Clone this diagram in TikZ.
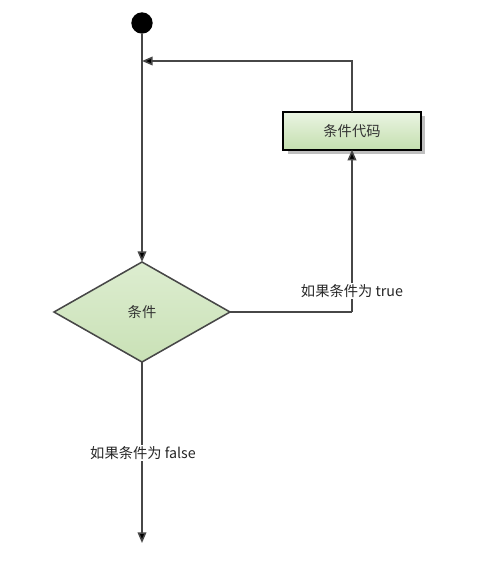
\documentclass[tikz,border=0pt]{standalone}
\usepackage{fontspec}
\setmainfont{Noto Sans CJK SC}
\usetikzlibrary{arrows.meta,shapes.geometric,shadows}
\definecolor{linec}{HTML}{474747}
\definecolor{boxtop}{HTML}{EAF4E2}
\definecolor{boxbot}{HTML}{C4DFAF}
\definecolor{diatop}{HTML}{DDEDD0}
\definecolor{diabot}{HTML}{C9E1B6}
\definecolor{txt}{HTML}{333333}
\begin{document}
\begin{tikzpicture}[x=0.75pt,y=-0.75pt,
  font=\fontsize{10.7}{13}\selectfont,
  conn/.style={draw=linec,line width=1.15pt,-{Triangle[length=8pt,width=6.5pt,fill=black]}},
  plain/.style={draw=linec,line width=1.15pt},
  startdot/.style={circle,fill=black,minimum size=16pt,inner sep=0pt},
  codebox/.style={rectangle,draw=black,line width=1.6pt,top color=boxtop,bottom color=boxbot,
    minimum width=103pt,minimum height=28pt,inner sep=0pt,outer sep=0pt,text=txt,
    drop shadow={shadow xshift=3.5pt,shadow yshift=-3pt,fill=black!25,opacity=1}},
  decision/.style={diamond,draw=linec,line width=1.15pt,top color=diatop,bottom color=diabot,
    minimum width=132pt,minimum height=75pt,inner sep=0pt,outer sep=0pt,text=txt},
  lbl/.style={fill=white,inner sep=1pt,text=black!85}]
\useasboundingbox (0,0) rectangle (478,572);
\node[startdot] (start) at (142,23) {};
\node[decision] (cond) at (142,312) {条件};
\node[codebox] (code) at (352,131) {条件代码};
\coordinate (merge) at (142,61);
\coordinate (turn) at (352,312);
\coordinate (exit) at (142,543);
\draw[conn] (start) -- (cond.north);
\draw[plain] (cond.east) -- (turn);
\draw[conn] (turn) -- (code.south);
\draw[conn] (code.north) |- (merge);
\draw[conn] (cond.south) -- (exit);
\node[lbl] (tlabel) at (352,291) {如果条件为 true};
\node[lbl] (flabel) at (143,453) {如果条件为 false};
\end{tikzpicture}
\end{document}
